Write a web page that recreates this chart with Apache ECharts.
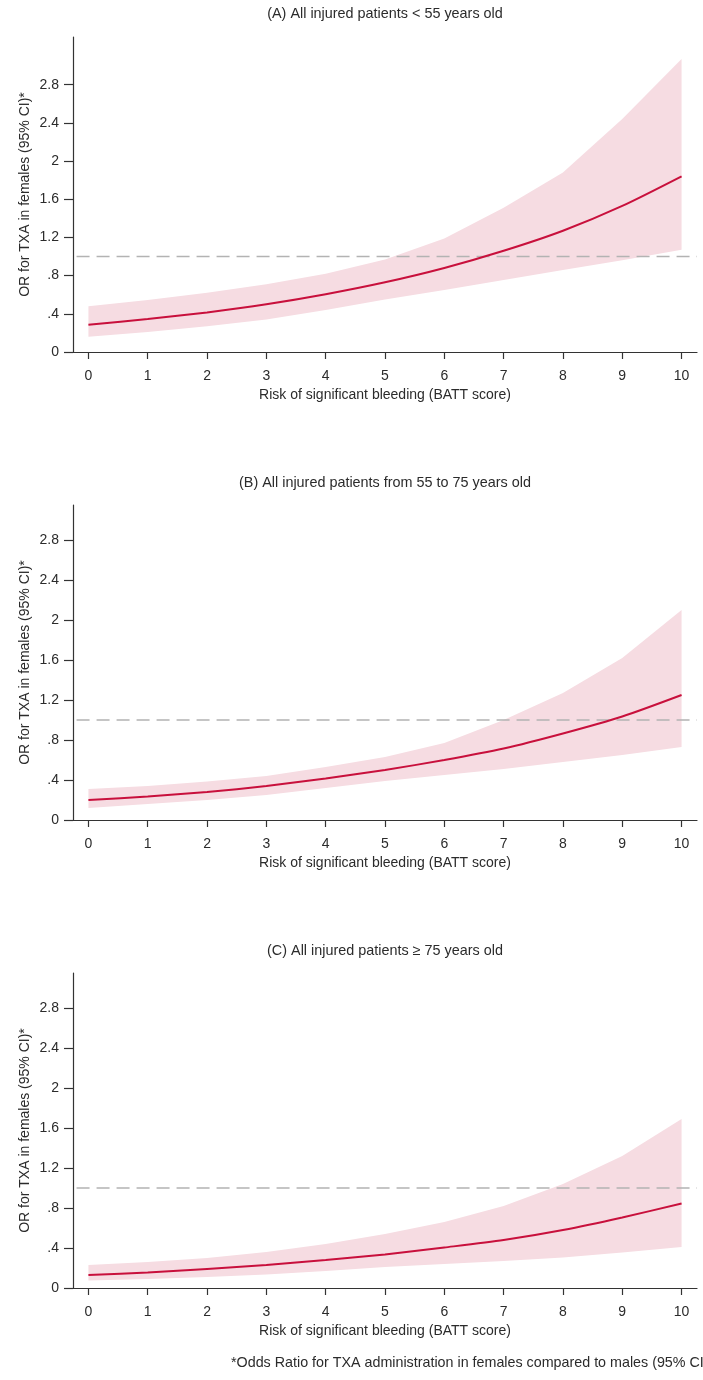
<!DOCTYPE html>
<html>
<head>
<meta charset="utf-8">
<script src="https://cdn.jsdelivr.net/npm/echarts@6/dist/echarts.min.js"></script>
<style>
html,body{margin:0;padding:0;background:#fff;}
#c{width:703px;height:1380px;}
</style>
</head>
<body>
<div id="c"></div>
<script>
// ---- data ----
const scores = [0, 1, 2, 3, 4, 5, 6, 7, 8, 9, 10];
const xTicks = [0, 1, 2, 3, 4, 5, 6, 7, 8, 9, 10];
const yTicks = [0, 0.4, 0.8, 1.2, 1.6, 2, 2.4, 2.8];
const yTickLabels = ['0', '.4', '.8', '1.2', '1.6', '2', '2.4', '2.8'];

const titles = [
  '(A) All injured patients < 55 years old',
  '(B) All injured patients from 55 to 75 years old',
  '(C) All injured patients \u2265 75 years old'
];

const orA    = [0.285, 0.345, 0.415, 0.50, 0.605, 0.73, 0.88, 1.06, 1.27, 1.53, 1.84];
const upperA = [0.48, 0.545, 0.62, 0.71, 0.82, 0.97, 1.19, 1.51, 1.88, 2.44, 3.07];
const lowerA = [0.16, 0.21, 0.27, 0.34, 0.44, 0.55, 0.65, 0.755, 0.86, 0.96, 1.07];

const orB    = [0.20, 0.235, 0.28, 0.34, 0.415, 0.50, 0.60, 0.715, 0.865, 1.035, 1.25];
const upperB = [0.31, 0.34, 0.385, 0.44, 0.53, 0.63, 0.77, 1.00, 1.27, 1.62, 2.10];
const lowerB = [0.12, 0.16, 0.20, 0.25, 0.32, 0.39, 0.45, 0.51, 0.58, 0.65, 0.73];

const orC    = [0.13, 0.155, 0.19, 0.23, 0.28, 0.335, 0.405, 0.48, 0.58, 0.705, 0.845];
const upperC = [0.23, 0.26, 0.30, 0.36, 0.44, 0.54, 0.66, 0.82, 1.04, 1.32, 1.69];
const lowerC = [0.075, 0.09, 0.11, 0.135, 0.17, 0.21, 0.24, 0.27, 0.305, 0.355, 0.41];

const refValue = 1;
const yMax = [3.3, 3.15, 3.15];

// ---- build ----
const panels = [
  {or: orA, up: upperA, lo: lowerA},
  {or: orB, up: upperB, lo: lowerB},
  {or: orC, up: upperC, lo: lowerC}
];
const FONT = "'Liberation Sans', Arial, sans-serif";
const TXT = '#2b2b2b';
const gridTops = [37, 505, 973];
const gridH = 315;
const xMin = -0.26, xMax = 10.26;

const grid = [], xAxis = [], yAxis = [], series = [], graphic = [];
panels.forEach((p, i) => {
  grid.push({left: 73, top: gridTops[i], width: 624, height: gridH});
  xAxis.push({
    type: 'value', gridIndex: i, min: xMin, max: xMax,
    axisLine: {show: true, onZero: false, lineStyle: {color: '#333', width: 1.2}},
    axisTick: {show: true, customValues: xTicks, length: 7, lineStyle: {color: '#333', width: 1.2}},
    axisLabel: {customValues: xTicks, margin: 17, fontSize: 14, color: TXT, fontFamily: FONT},
    splitLine: {show: false},
    name: 'Risk of significant bleeding (BATT score)',
    nameLocation: 'middle', nameGap: 36, nameMoveOverlap: false,
    nameTextStyle: {fontSize: 14, color: TXT, fontFamily: FONT}
  });
  yAxis.push({
    type: 'value', gridIndex: i, min: 0, max: yMax[i],
    axisLine: {show: true, onZero: false, lineStyle: {color: '#333', width: 1.2}},
    axisTick: {show: true, customValues: yTicks, length: 9, lineStyle: {color: '#333', width: 1.2}},
    axisLabel: {customValues: yTicks, margin: 14, fontSize: 14, color: TXT, fontFamily: FONT,
      formatter: v => { const k = yTicks.findIndex(t => Math.abs(t - v) < 1e-6); return k >= 0 ? yTickLabels[k] : ''; }},
    splitLine: {show: false},
    name: 'OR for TXA in females (95% CI)*',
    nameLocation: 'middle', nameGap: 41, nameRotate: 90, nameMoveOverlap: false,
    nameTextStyle: {fontSize: 14, color: TXT, fontFamily: FONT}
  });
  // confidence band as a polygon through the axes' scales
  series.push({
    type: 'custom', xAxisIndex: i, yAxisIndex: i, silent: true, z: 1, clip: true,
    data: [[0, 0]],
    renderItem: (params, api) => {
      const pts = [];
      scores.forEach((x, k) => pts.push(api.coord([x, p.up[k]])));
      for (let k = scores.length - 1; k >= 0; k--) pts.push(api.coord([scores[k], p.lo[k]]));
      return {type: 'polygon', shape: {points: pts}, style: {fill: '#f6dce2'}};
    }
  });
  series.push({
    type: 'line', xAxisIndex: i, yAxisIndex: i, silent: true, symbol: 'none', z: 2,
    lineStyle: {color: '#b3b3b3', width: 1.6, type: [13, 7]},
    data: [[xMin + 0.06, refValue], [xMax, refValue]]
  });
  series.push({
    type: 'line', xAxisIndex: i, yAxisIndex: i, silent: true, symbol: 'none', z: 3,
    smooth: 0.25,
    lineStyle: {color: '#c8103c', width: 2},
    data: scores.map((x, k) => [x, p.or[k]])
  });
});

const titleY = [14, 483, 951];
titles.forEach((t, i) => {
  graphic.push({type: 'text', x: 385, y: titleY[i],
    style: {text: t, fill: TXT, font: '14.4px ' + FONT, textAlign: 'center', textVerticalAlign: 'middle'}});
});
graphic.push({type: 'text', x: 231, y: 1363,
  style: {text: '*Odds Ratio for TXA administration in females compared to males (95% CI)', fill: TXT,
    font: '14.3px ' + FONT, textAlign: 'left', textVerticalAlign: 'middle'}});

const chart = echarts.init(document.getElementById('c'), null, {renderer: 'canvas'});
chart.setOption({
  animation: false,
  backgroundColor: '#fff',
  grid, xAxis, yAxis, series, graphic
});
</script>
</body>
</html>
